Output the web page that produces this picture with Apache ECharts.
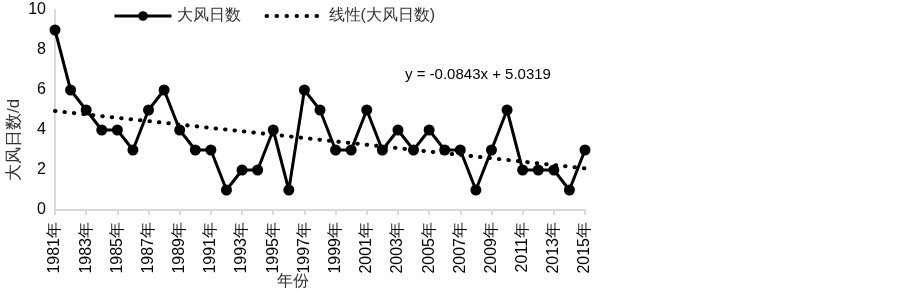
<!DOCTYPE html>
<html><head><meta charset="utf-8">
<script src="https://cdn.jsdelivr.net/npm/echarts@6/dist/echarts.min.js"></script>
<style>html,body{margin:0;padding:0;background:#fff}#c{width:903px;height:291px}</style>
</head><body><div id="c"></div>
<script>
const years = ['1981年','1982年','1983年','1984年','1985年','1986年','1987年','1988年','1989年','1990年','1991年','1992年','1993年','1994年','1995年','1996年','1997年','1998年','1999年','2000年','2001年','2002年','2003年','2004年','2005年','2006年','2007年','2008年','2009年','2010年','2011年','2012年','2013年','2014年','2015年'];
const windDays = [9,6,5,4,4,3,5,6,4,3,3,1,2,2,4,1,6,5,3,3,5,3,4,3,4,3,3,1,3,5,2,2,2,1,3];
const trendSlope = -0.0843;
const trendIntercept = 5.0319;
const trendData = [[0, trendSlope*1+trendIntercept],[years.length-1, trendSlope*years.length+trendIntercept]];
const font = '"Liberation Sans", Arial, sans-serif';
const chart = echarts.init(document.getElementById('c'), null, {renderer:'canvas'});
chart.setOption({
  animation:false,
  textStyle:{fontFamily:font},
  legend:{top:3, left:108, itemWidth:57, itemHeight:12, itemGap:24,
    textStyle:{fontSize:16, color:'#333', fontFamily:font},
    data:[{name:'大风日数', lineStyle:{width:3}},
          {name:'线性(大风日数)', itemStyle:{opacity:0}, lineStyle:{width:4, type:[0.5,9.5], cap:'round'}}]},
  grid:{left:55, right:318, top:10, bottom:81},
  xAxis:{type:'category', data:years, boundaryGap:false,
    axisLine:{lineStyle:{color:'#d9d9d9', width:2}},
    axisTick:{show:true, interval:1, length:5, lineStyle:{color:'#d9d9d9', width:2}},
    axisLabel:{interval:1, rotate:90, fontSize:16, color:'#000', margin:12}},
  yAxis:{type:'value', min:0, max:10, interval:2,
    axisLine:{show:true, lineStyle:{color:'#d9d9d9', width:2}},
    axisTick:{show:false}, splitLine:{show:false},
    axisLabel:{fontSize:16, color:'#000', margin:9}},
  graphic:[
    {type:'text', left:405, top:67, style:{text:'y = -0.0843x + 5.0319', fontSize:15, fill:'#000', fontFamily:font}},
    {type:'text', left:277, top:274, style:{text:'年份', fontSize:16, fill:'#333', fontFamily:font}},
    {type:'text', x:14, y:140, rotation:Math.PI/2, style:{text:'大风日数/d', fontSize:17, fill:'#333', fontFamily:font, align:'center', verticalAlign:'middle'}}
  ],
  series:[
    {name:'大风日数', type:'line', data:windDays, symbol:'circle', symbolSize:11, showAllSymbol:true,
      itemStyle:{color:'#000'}, lineStyle:{color:'#000', width:3}, z:3},
    {name:'线性(大风日数)', type:'line', data:trendData, symbol:'none',
      itemStyle:{color:'#000'},
      lineStyle:{color:'#000', width:4, type:[0.5,9], cap:'round'}, z:2}
  ]
});
</script></body></html>
